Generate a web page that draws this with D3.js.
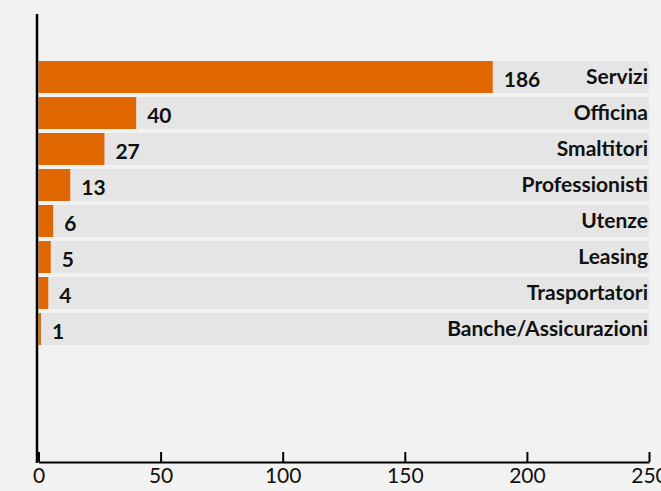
<!DOCTYPE html>
<html>
<head>
<meta charset="utf-8">
<script src="https://cdn.jsdelivr.net/npm/d3@7"></script>
<style>
  body { margin: 0; background: #f2f2f2; }
  svg { display: block; font-family: Lato, sans-serif; }
</style>
</head>
<body>
<div id="chart"></div>
<script>
const categories = ["Servizi", "Officina", "Smaltitori", "Professionisti", "Utenze", "Leasing", "Trasportatori", "Banche/Assicurazioni"];
const values = [186, 40, 27, 13, 6, 5, 4, 1];
const xTicks = [0, 50, 100, 150, 200, 250];

const width = 661, height = 491;

var svg = d3.select("#chart")
  .append("svg")
    .attr("width", width)
    .attr("height", height);

svg.append("rect")
  .attr("width", width).attr("height", height)
  .attr("fill", "#f2f2f2");

var x = d3.scaleLinear()
  .domain([0, 250])
  .range([38.5, 649]);

var y = d3.scaleBand()
  .domain(categories)
  .range([59, 347])
  .paddingInner(4 / 36)
  .paddingOuter(2 / 36);

var data = categories.map((c, i) => ({ cat: c, val: values[i] }));

// gray track behind each bar
svg.append("g")
  .selectAll("rect")
  .data(data)
  .enter()
  .append("rect")
    .attr("x", x(0))
    .attr("y", d => y(d.cat))
    .attr("width", x(250) - x(0))
    .attr("height", y.bandwidth())
    .attr("fill", "#e5e5e5");

// bars
svg.append("g")
  .selectAll("rect")
  .data(data)
  .enter()
  .append("rect")
    .attr("x", x(0))
    .attr("y", d => y(d.cat))
    .attr("width", d => x(d.val) - x(0))
    .attr("height", y.bandwidth())
    .attr("fill", "#e06600");

// value labels
svg.append("g")
  .selectAll("text")
  .data(data)
  .enter()
  .append("text")
    .attr("x", d => x(d.val) + 11)
    .attr("y", d => y(d.cat) + y.bandwidth() / 2 + 3)
    .attr("dy", "0.35em")
    .attr("font-size", 21)
    .attr("font-weight", "bold")
    .attr("fill", "#111")
    .text(d => d.val);

// category labels
svg.append("g")
  .selectAll("text")
  .data(data)
  .enter()
  .append("text")
    .attr("x", x(250) - 1)
    .attr("y", d => y(d.cat) + y.bandwidth() / 2)
    .attr("dy", "0.35em")
    .attr("text-anchor", "end")
    .attr("font-size", 21)
    .attr("font-weight", "bold")
    .attr("fill", "#111")
    .text(d => d.cat);

// x axis
var xAxisG = svg.append("g")
  .attr("transform", "translate(0,462)")
  .call(d3.axisBottom(x).tickValues(xTicks).tickSizeInner(-10).tickSizeOuter(0).tickPadding(6));
xAxisG.select(".domain").attr("stroke", "#000").attr("stroke-width", 2);
xAxisG.selectAll(".tick line").attr("stroke", "#000").attr("stroke-width", 2);
xAxisG.selectAll(".tick text")
  .attr("font-family", "Lato, sans-serif")
  .attr("font-size", 21)
  .attr("fill", "#111");

// y axis line
svg.append("line")
  .attr("x1", 37).attr("x2", 37)
  .attr("y1", 14).attr("y2", 463)
  .attr("stroke", "#000")
  .attr("stroke-width", 2.5);
</script>
</body>
</html>
